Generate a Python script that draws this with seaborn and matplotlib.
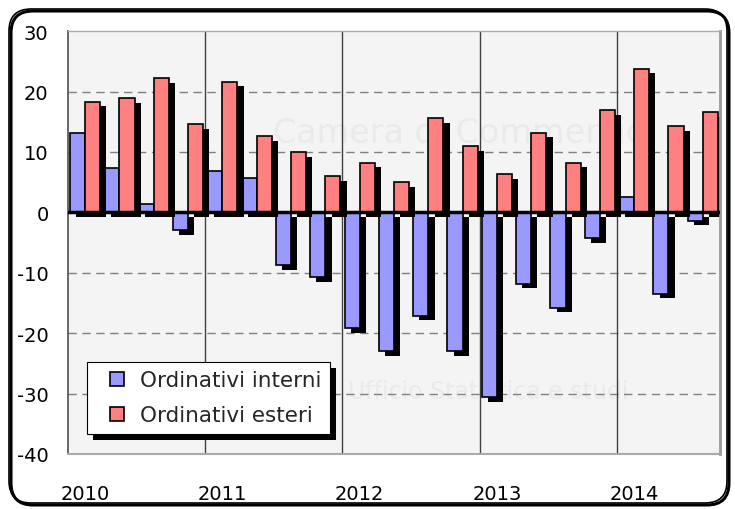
import matplotlib
matplotlib.use('Agg')
import matplotlib.pyplot as plt
import matplotlib.patheffects as pe
from matplotlib.patches import FancyBboxPatch
from matplotlib.lines import Line2D
import pandas as pd
import seaborn as sns

# ---- data (quarterly, % change) ----
quarters = ['2010T1', '2010T2', '2010T3', '2010T4',
            '2011T1', '2011T2', '2011T3', '2011T4',
            '2012T1', '2012T2', '2012T3', '2012T4',
            '2013T1', '2013T2', '2013T3', '2013T4',
            '2014T1', '2014T2', '2014T3']
interni = [13.2, 7.3, 1.3, -3.0, 6.9, 5.7, -8.8, -10.7,
           -19.2, -23.0, -17.1, -23.0, -30.6, -11.8, -15.8, -4.3,
           2.5, -13.5, -1.4]
esteri = [18.3, 18.9, 22.2, 14.6, 21.6, 12.6, 10.0, 6.0,
          8.2, 5.0, 15.6, 10.9, 6.3, 13.2, 8.2, 16.9,
          23.8, 14.3, 16.6]
series_names = ['Ordinativi interni', 'Ordinativi esteri']
colors = ['#9999ff', '#ff8080']
year_labels = ['2010', '2011', '2012', '2013', '2014']
year_pos = [0, 4, 8, 12, 16]
year_breaks = [3.5, 7.5, 11.5, 15.5]

df = pd.DataFrame({
    'trimestre': quarters * 2,
    'valore': interni + esteri,
    'serie': [series_names[0]] * len(quarters) + [series_names[1]] * len(quarters),
})

sns.set_theme(style='white')
plt.rcParams['font.family'] = ['DejaVu Sans']
plt.rcParams['axes.unicode_minus'] = False

fig = plt.figure(figsize=(7.35, 5.1), dpi=100)
ax = fig.add_axes([0.0925, 0.108, 0.887, 0.829])
ax.set_facecolor('#f4f4f4')

sns.barplot(data=df, x='trimestre', y='valore', hue='serie',
            palette=colors, saturation=1, width=0.88, legend=False,
            edgecolor='black', linewidth=1.2, ax=ax, zorder=2)

# black drop shadow on every bar
for cont in ax.containers:
    for bar in cont:
        bar.set_path_effects([
            pe.SimplePatchShadow(offset=(4.5, -3.3), shadow_rgbFace='black', alpha=1),
            pe.Normal()])

# faint watermark
ax.text(0.60, 0.76, 'Camera di Commercio', transform=ax.transAxes, fontsize=24,
        color='#eaeaea', ha='center', va='center', zorder=0.6)
ax.text(0.43, 0.15, 'Ufficio Statistica e studi', transform=ax.transAxes, fontsize=17,
        color='#eaeaea', ha='left', va='center', zorder=0.6)

# grid
for y in [20, 10, -10, -20, -30]:
    ax.axhline(y, color='#7f7f7f', lw=1, ls=(0, (6, 4)), zorder=0.8)
for x in year_breaks:
    ax.axvline(x, color='#404040', lw=1, zorder=0.8)
ax.axhline(0, color='black', lw=2.5, zorder=5)

ax.set_ylim(-40, 30)
ax.set_xlim(-0.5, len(quarters) - 0.5)
ax.set_yticks(range(-40, 31, 10))
ax.set_xticks(year_pos)
ax.set_xticklabels(year_labels)
ax.set_xlabel('')
ax.set_ylabel('')
ax.tick_params(axis='y', length=6, width=1, color='#555555', direction='out',
               labelsize=14, pad=8, labelcolor='black')
ax.tick_params(axis='x', length=0, labelsize=14, pad=22, labelcolor='black')

ax.spines['left'].set_color('#555555')
ax.spines['bottom'].set_color('#aaaaaa')
ax.spines['top'].set_color('#aaaaaa')
ax.spines['right'].set_color('#999999')
ax.spines['bottom'].set_linewidth(1.5)
ax.spines['right'].set_linewidth(2)
ax.spines['top'].set_linewidth(1)

# legend with square markers
handles = [Line2D([], [], ls='none', marker='s', markersize=10, markerfacecolor=c,
                  markeredgecolor='black', markeredgewidth=1.2) for c in colors]
leg = ax.legend(handles, series_names, loc='lower left', bbox_to_anchor=(0.029, 0.047),
                borderaxespad=0, fontsize=15.5, frameon=True, fancybox=False,
                handlelength=2.0, handletextpad=0.05, labelspacing=0.7,
                borderpad=0.4)
frame = leg.get_frame()
frame.set_edgecolor('black')
frame.set_facecolor('white')
frame.set_linewidth(0.8)
frame.set_alpha(1)
frame.set_path_effects([
    pe.SimplePatchShadow(offset=(4.5, -4.5), shadow_rgbFace='black', alpha=1),
    pe.Normal()])

# rounded outer border (pixel coords) with a thicker offset line as shadow
border_shadow = FancyBboxPatch((11, 4), 718, 494, boxstyle='round,pad=0,rounding_size=22',
                               transform=None, fc='none', ec='black', lw=2.2)
border = FancyBboxPatch((9, 6), 718, 494, boxstyle='round,pad=0,rounding_size=22',
                        transform=None, fc='none', ec='black', lw=1.2)
fig.patches.append(border_shadow)
fig.patches.append(border)

fig.savefig('out.png', dpi=100)
